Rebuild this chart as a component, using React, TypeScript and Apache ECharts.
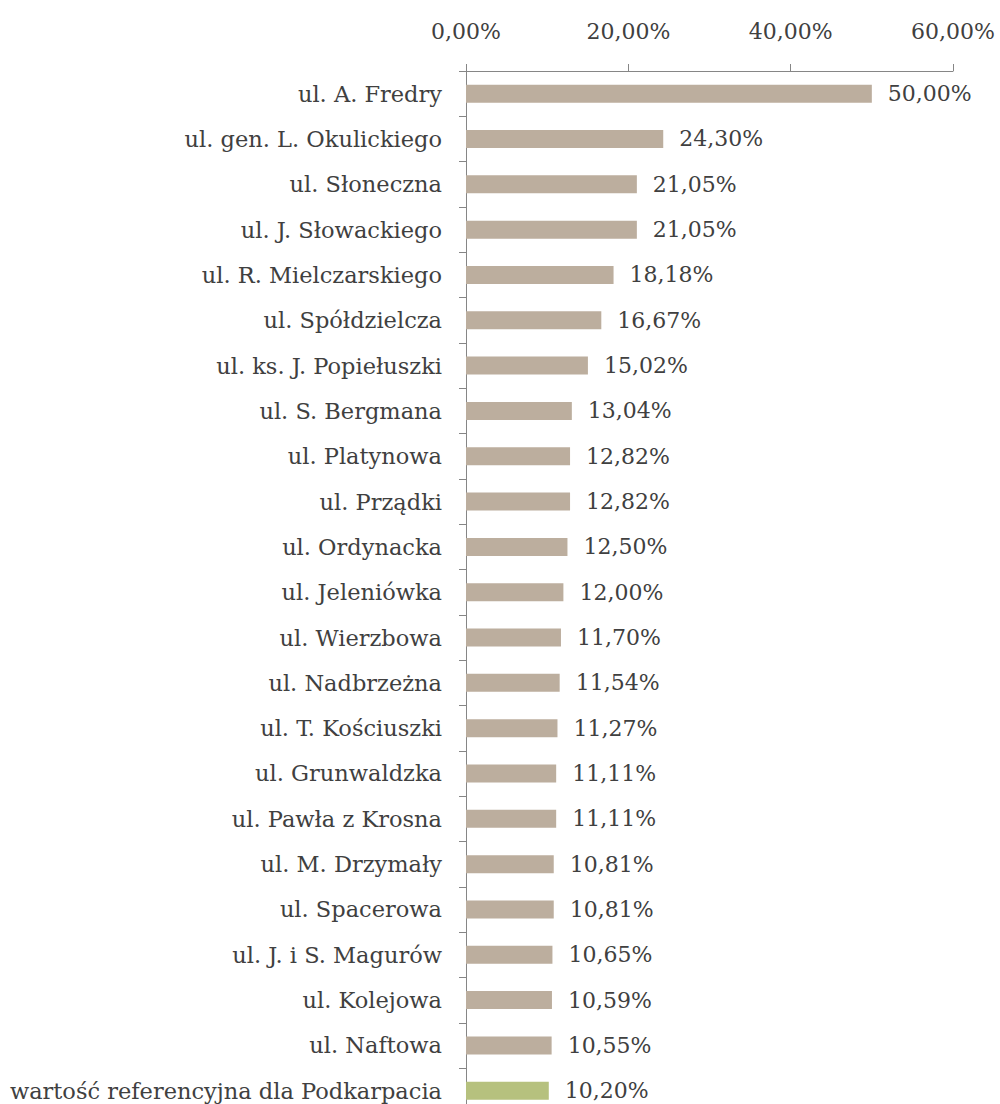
import React, { useEffect, useRef } from "react";
import * as echarts from "echarts";

const categories: string[] = [
  "ul. A. Fredry",
  "ul. gen. L. Okulickiego",
  "ul. Słoneczna",
  "ul. J. Słowackiego",
  "ul. R. Mielczarskiego",
  "ul. Spółdzielcza",
  "ul. ks. J. Popiełuszki",
  "ul. S. Bergmana",
  "ul. Platynowa",
  "ul. Prządki",
  "ul. Ordynacka",
  "ul. Jeleniówka",
  "ul. Wierzbowa",
  "ul. Nadbrzeżna",
  "ul. T. Kościuszki",
  "ul. Grunwaldzka",
  "ul. Pawła z Krosna",
  "ul. M. Drzymały",
  "ul. Spacerowa",
  "ul. J. i S. Magurów",
  "ul. Kolejowa",
  "ul. Naftowa",
  "wartość referencyjna dla Podkarpacia",
];

const values: number[] = [
  50.0, 24.3, 21.05, 21.05, 18.18, 16.67, 15.02, 13.04, 12.82, 12.82, 12.5, 12.0,
  11.7, 11.54, 11.27, 11.11, 11.11, 10.81, 10.81, 10.65, 10.59, 10.55, 10.2,
];

const referenceIndex = 22;

const fmt = (v: number) => v.toFixed(2).replace(".", ",") + "%";

const FONT = "DejaVu Serif";
const TEXT = "#404040";

export default function App() {
  const ref = useRef<HTMLDivElement>(null);
  useEffect(() => {
    if (!ref.current) return;
    const chart = echarts.init(ref.current, null, { renderer: "svg" });
    chart.setOption({
      animation: false,
      backgroundColor: "#ffffff",
      grid: { left: 466, right: 47, top: 71, bottom: 6.6, containLabel: false },
      xAxis: {
        type: "value",
        position: "top",
        min: 0,
        max: 60,
        interval: 20,
        axisLine: { show: true, lineStyle: { color: "#868686", width: 1 } },
        axisTick: { show: true, length: 7, lineStyle: { color: "#868686" } },
        splitLine: { show: false },
        axisLabel: {
          margin: 29,
          formatter: (v: number) => fmt(v),
          color: TEXT,
          fontFamily: FONT,
          fontSize: 22,
        },
      },
      yAxis: {
        type: "category",
        inverse: true,
        data: categories,
        axisLine: { show: true, lineStyle: { color: "#868686", width: 1 } },
        axisTick: { show: true, length: 7, lineStyle: { color: "#868686" } },
        axisLabel: {
          margin: 24,
          color: TEXT,
          fontFamily: FONT,
          fontSize: 22.5,
        },
      },
      series: [
        {
          type: "bar",
          barWidth: 18,
          data: values.map((v, i) => ({
            value: v,
            itemStyle: { color: i === referenceIndex ? "#B6C17E" : "#BCAE9E" },
          })),
          label: {
            show: true,
            position: "right",
            distance: 16,
            formatter: (p: any) => fmt(p.value),
            color: TEXT,
            fontFamily: FONT,
            fontSize: 22,
          },
        },
      ],
    });
    return () => chart.dispose();
  }, []);
  return (
    <div
      style={{
        position: "absolute",
        left: 0,
        top: 0,
        width: 1000,
        height: 1104,
        overflow: "hidden",
        background: "#ffffff",
      }}
    >
      <div ref={ref} style={{ width: 1000, height: 1120 }} />
    </div>
  );
}
